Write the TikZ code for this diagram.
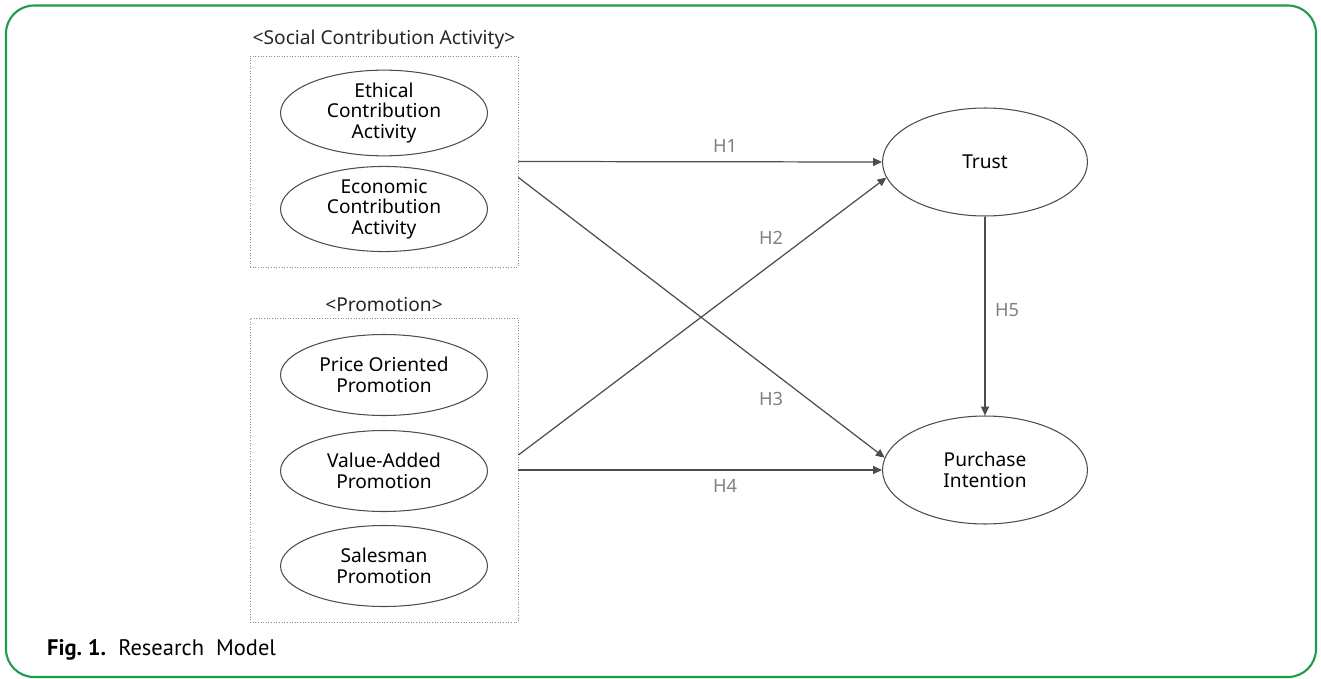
\documentclass[tikz,border=0pt]{standalone}
\usepackage{fontspec}
\setmainfont{Noto Sans}
\newfontfamily\captionfont{PT Sans}
\usepackage{tikz}
\usetikzlibrary{shapes.geometric, arrows.meta, positioning, calc}
\definecolor{framegreen}{HTML}{1E9B4B}
\definecolor{edgegray}{HTML}{4D4D4D}
\definecolor{hypgray}{HTML}{808080}

\begin{document}
\begin{tikzpicture}[
  x=0.02cm, y=-0.02cm,
  every node/.style={font=\fontsize{10.9}{11.8}\selectfont},
  construct/.style={ellipse, draw=edgegray, line width=0.6pt, minimum width=4.14cm,
                    minimum height=1.62cm, inner sep=0pt, align=center},
  latent/.style={ellipse, draw=edgegray, line width=0.6pt, minimum width=4.1cm,
                 minimum height=2.16cm, inner sep=0pt, align=center},
  groupbox/.style={rectangle, draw=gray!90, densely dotted, line width=0.5pt,
                   minimum width=5.36cm, inner sep=0pt},
  grouptitle/.style={text=black!85, align=center},
  hyp/.style={-{Triangle[length=5pt, width=4.5pt]}, edgegray, line width=0.7pt},
  hlabel/.style={text=hypgray, font=\fontsize{10.4}{11}\selectfont\bfseries}
]
  \useasboundingbox (0,0) rectangle (1321,679);
  \draw[framegreen, line width=1.2pt, rounded corners=0.56cm] (6,5.5) rectangle (1316,677);

  % left: groups of antecedents
  \node[groupbox, minimum height=4.22cm] (sca) at (384,161.5) {};
  \node[grouptitle, above=0pt of sca] (scat) {<Social Contribution Activity>};
  \node[construct] (eca) at (384,113) {Ethical\\Contribution\\Activity};
  \node[construct] (eco) at (384,209) {Economic\\Contribution\\Activity};

  \node[groupbox, minimum height=6.08cm] (pro) at (384,470) {};
  \node[grouptitle, above=0pt of pro] (prot) {<Promotion>};
  \node[construct] (pop) at (384,375) {Price Oriented\\Promotion};
  \node[construct] (vap) at (384,471) {Value-Added\\Promotion};
  \node[construct] (smp) at (384,566) {Salesman\\Promotion};

  % right: outcomes
  \node[latent] (trust) at (985,162) {Trust};
  \node[latent] (pi) at (985,470) {Purchase\\Intention};

  % hypotheses
  \draw[hyp] (sca.east) -- (trust.west);
  \draw[hyp] ([yshift=0.3cm]pro.east) -- (trust.189);
  \draw[hyp] ([yshift=-0.32cm]sca.east) -- (pi.173);
  \draw[hyp] (pro.east) -- (pi.west);
  \draw[hyp] (trust.south) -- (pi.north);

  \node[hlabel] (h1) at (725,146) {H1};
  \node[hlabel] (h2) at (771,238) {H2};
  \node[hlabel] (h3) at (771,399) {H3};
  \node[hlabel] (h4) at (725,486) {H4};
  \node[hlabel] (h5) at (1007,310) {H5};

  \node[anchor=west, font=\captionfont\fontsize{12.8}{14}\selectfont] (cap) at (41,650)
    {{\bfseries Fig.\ 1.}\ \ Research\ \ Model};
\end{tikzpicture}
\end{document}
